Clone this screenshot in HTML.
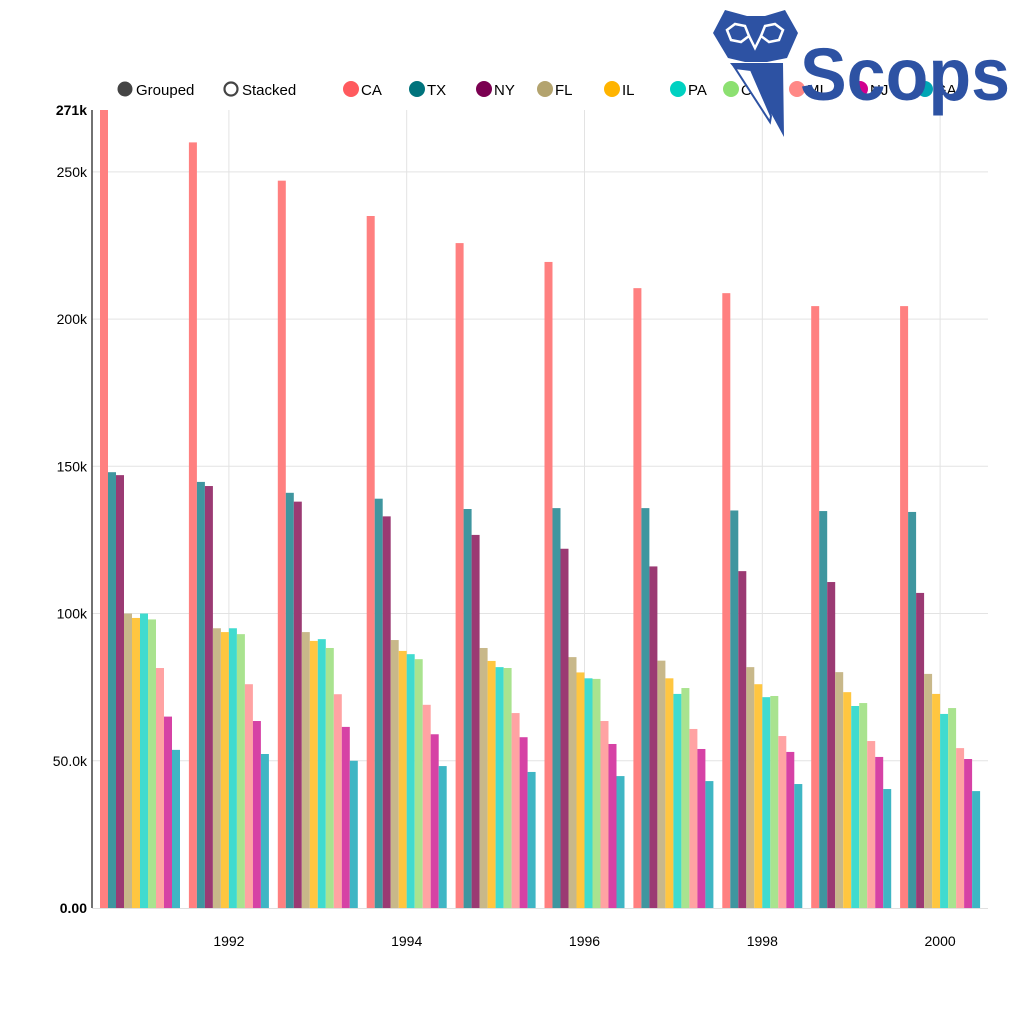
<!DOCTYPE html>
<html><head><meta charset="utf-8"><style>
body{margin:0;background:#fff;font-family:"Liberation Sans",sans-serif;}
svg text{font-family:"Liberation Sans",sans-serif;}
</style></head><body>
<svg id="chart" width="1024" height="1024" viewBox="0 0 1024 1024">
<g id="grid"></g>
<g id="bars"></g>
<g id="axes"></g>
<g id="legend"></g>
<g>
  <polygon points="725,10 747,16 765,16 785,10 798,33 787,58 767,62 745,62 728,58 713,33" fill="#2d52a3"/>
  <polygon points="727,30 735,24 745,26 749,36 741,42 731,40" fill="none" stroke="#fff" stroke-width="2.5"/>
  <polygon points="765,26 775,24 783,30 779,40 769,42 761,36" fill="none" stroke="#fff" stroke-width="2.5"/>
  <polyline points="749,36 755,48 761,36" fill="none" stroke="#fff" stroke-width="2.5"/>
  <polygon points="730,63 783,63 784,137 772,115 730,63" fill="#2d52a3"/>
  <polygon points="735,68 751,70 771,116 770,122" fill="#fff" stroke="#2d52a3" stroke-width="2"/>
  <text x="800" y="100" font-size="74" font-weight="bold" fill="#2d52a3" textLength="210" lengthAdjust="spacingAndGlyphs">Scops</text>
</g>
</svg>
<script>
const years=[1991,1992,1993,1994,1995,1996,1997,1998,1999,2000];
const states=["CA","TX","NY","FL","IL","PA","OH","MI","NJ","GA"];
const CA=[271,260,247,235,225.8,219.4,210.5,208.8,204.4,204.4];
const TX=[148,144.7,141,139,135.5,135.8,135.8,135,134.8,134.5];
const NY=[147,143.3,138,133,126.7,122,116,114.4,110.7,107];
const FL=[100,95,93.7,91,88.3,85.2,84,81.8,80.1,79.5];
const IL=[98.5,93.7,90.7,87.3,83.9,80,78,76,73.3,72.7];
const PA=[100,95,91.3,86.2,81.8,78,72.7,71.6,68.6,65.9];
const OH=[98,93,88.3,84.5,81.5,77.8,74.7,72,69.6,67.9];
const MI=[81.5,76,72.6,69,66.2,63.5,60.8,58.4,56.7,54.3];
const NJ=[65,63.5,61.5,59,58,55.7,54,53,51.3,50.6];
const GA=[53.7,52.3,50,48.2,46.2,44.8,43.1,42.1,40.4,39.7];
const yTicks=[0,50,100,150,200,250,271];
const yTickLabels=["0.00","50.0k","100k","150k","200k","250k","271k"];
const xTickYears=[1992,1994,1996,1998,2000];
const series=[CA,TX,NY,FL,IL,PA,OH,MI,NJ,GA];
const barColors=["#ff8080","#3f969f","#9b3a73","#c8b88a","#ffc640","#40dbcf","#a9e38f","#ffa3a3","#d642a5","#3fb6c4"];
const legendColors=["#ff5a5e","#00737c","#7b0051","#b3a36e","#ffb400","#00d1c1","#8ce071","#ff8886","#d1008f","#00a6b5"];
const NS="http://www.w3.org/2000/svg";
const X0=100,PITCH=88.9,BW=8,Y0=908,YTOP=110,YMAX=271;
function ys(v){return Y0-(v/YMAX)*(Y0-YTOP);}
function gx(i){return X0+PITCH*i;}
function mk(tag,attrs,parent){const e=document.createElementNS(NS,tag);for(const k in attrs)e.setAttribute(k,attrs[k]);parent.appendChild(e);return e;}
const grid=document.getElementById('grid'),bars=document.getElementById('bars'),axes=document.getElementById('axes'),legend=document.getElementById('legend');
yTicks.forEach((t,i)=>{
  if(t>0&&t<YMAX){const l=mk('line',{x1:92,x2:988,y1:ys(t),y2:ys(t),stroke:'#e3e3e3','stroke-width':1},grid);
  
  }
  const bold=(t===0||t===YMAX);
  const tx=mk('text',{x:87,y:ys(t)+5,'text-anchor':'end','font-size':14,'font-weight':bold?'bold':'normal',fill:'#000'},axes);
  tx.textContent=yTickLabels[i];
  
  
});
xTickYears.forEach(yr=>{
  const i=years.indexOf(yr);const cx=gx(i)+BW*5;
  const l=mk('line',{x1:cx,x2:cx,y1:YTOP,y2:Y0,stroke:'#e3e3e3','stroke-width':1},grid);
  
  
  const t=mk('text',{x:cx,y:946,'text-anchor':'middle','font-size':14,fill:'#000'},axes);
  t.textContent=yr;
  
  
});
const bl=mk('line',{x1:92,x2:988,y1:Y0+0.5,y2:Y0+0.5,stroke:'#e0e0e0','stroke-width':1},axes);


const al=mk('line',{x1:92,x2:92,y1:YTOP,y2:Y0,stroke:'#444','stroke-width':1.5},axes);


years.forEach((yr,i)=>{
  series.forEach((s,j)=>{
    const v=s[i];
    const r=mk('rect',{x:gx(i)+j*BW,y:ys(v),width:BW,height:Y0-ys(v),fill:barColors[j]},bars);
    
    
  });
});
// legend
const c1=mk('circle',{cx:125,cy:89,r:7.5,fill:'#444'},legend);


const t1=mk('text',{x:136,y:95,'font-size':15,fill:'#000'},legend);t1.textContent='Grouped';


const c2=mk('circle',{cx:231,cy:89,r:6.5,fill:'#fff',stroke:'#444','stroke-width':2.2},legend);


const t2=mk('text',{x:242,y:95,'font-size':15,fill:'#000'},legend);t2.textContent='Stacked';


const lx=[351,417,484,545,612,678,731,797,860,925];
states.forEach((s,j)=>{
  const c=mk('circle',{cx:lx[j],cy:89,r:8,fill:legendColors[j]},legend);
  
  
  const t=mk('text',{x:lx[j]+10,y:95,'font-size':15,fill:'#000'},legend);t.textContent=s;
  
  
});
</script>
</body></html>
